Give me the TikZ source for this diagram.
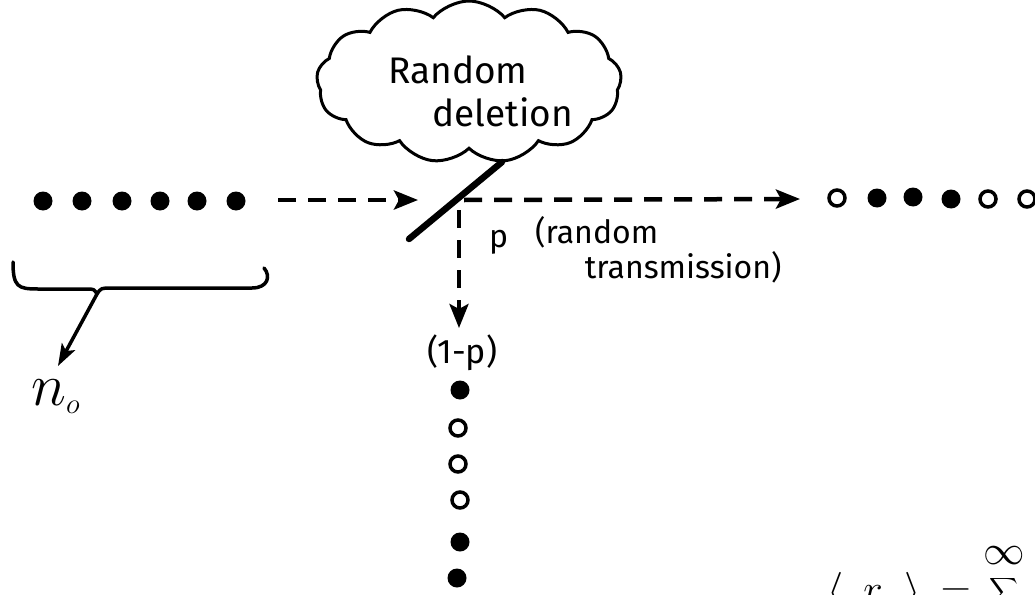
\documentclass[tikz,border=0pt]{standalone}
\usepackage{graphicx}
\usepackage{fontspec}
\setmainfont{Fira Sans}
\usetikzlibrary{shapes.symbols,arrows.meta}
\begin{document}
\begin{tikzpicture}[x=1pt,y=-1pt,
  full/.style={circle,fill=black,inner sep=0pt,minimum size=19pt},
  hollow/.style={circle,draw=black,line width=3.5pt,inner sep=0pt,minimum size=16pt},
  dashline/.style={line width=4.5pt,dash pattern=on 18pt off 12pt},
  tip/.style={-{Stealth[length=24pt,width=19pt,inset=5pt]}},
  hand/.style={font=\fontsize{32}{35}\selectfont,inner sep=0pt},
  bigtext/.style={font=\fontsize{37}{43}\selectfont,inner sep=0pt}]
\useasboundingbox (0,0) rectangle (1035,594);
\clip (0,0) rectangle (1035,594);
% cloud
\node[cloud, draw, line width=3pt, cloud puffs=13, cloud puff arc=100,
      cloud ignores aspect, minimum width=305pt, minimum height=162pt,
      inner sep=0pt] (cloud) at (469,82) {};
\node[bigtext,anchor=base west,align=left] (ctext) at (388,126)
  {Random\\\hspace*{1.2em}deletion};
% left dots
\foreach \x [count=\i] in {43,82,122,160,197,236}
  \node[full] (l\i) at (\x,201) {};
% mirror
\coordinate (m1) at (409,239);
\coordinate (m2) at (502,162);
\draw[line width=6.5pt,line cap=round] (m1) -- (m2);
% incoming arrow
\coordinate (in0) at (278,200);
\coordinate (in1) at (418,200);
\draw[dashline,tip] (in0) -- (in1);
% transmitted arrow
\coordinate (t0) at (464,200);
\coordinate (t1) at (800,199);
\draw[dashline,tip] (t0) -- (t1);
% right dots
\node[hollow] (r1) at (837,198) {};
\node[full]   (r2) at (877,198) {};
\node[full]   (r3) at (913,197) {};
\node[full]   (r4) at (951,199) {};
\node[hollow] (r5) at (988,199) {};
\node[hollow] (r6) at (1027,199) {};
% reflected arrow
\coordinate (d0) at (459,210);
\coordinate (d1) at (459,328);
\draw[dashline,line width=4pt,tip] (d0) -- (d1);
% labels
\node[hand,anchor=base west] (p) at (489,247) {p};
\node[hand,anchor=base west,align=left] (tr) at (535,278)
  {(random\\\hspace*{1.55em}transmission)};
\node[font=\fontsize{34}{34}\selectfont,inner sep=0pt] (q) at (462,353) {(1-p)};
% vertical dots
\node[full]   (v1) at (460,390) {};
\node[hollow] (v2) at (458,428) {};
\node[hollow] (v3) at (458,464) {};
\node[hollow] (v4) at (460,500) {};
\node[full]   (v5) at (460,542) {};
\node[full]   (v6) at (457,578) {};
% brace
\draw[line width=3.5pt,line cap=round,line join=round]
  (13,262) .. controls (13,287) and (18,289) .. (38,289) -- (86,289)
  .. controls (94,289) .. (97,294) .. controls (101,288) .. (112,288)
  -- (252,288) .. controls (268,288) and (271,276) .. (264,268);
\coordinate (bc) at (97,294);
\coordinate (nt) at (58,366);
\draw[line width=3.5pt,-{Stealth[length=22pt,width=15pt,inset=5pt]}] (bc) -- (nt);
\node[font=\fontsize{24}{24}\selectfont,inner sep=0pt,anchor=base west] (n0) at (31,405)
  {\scalebox{2.4}{$n_{\scriptscriptstyle o}$}};
% formula (cut off at bottom)
\node[anchor=base west,font=\fontsize{20}{20}\selectfont,inner sep=0pt] (f) at (827,603)
  {\scalebox{2}{$\langle\hspace{10pt}r\hspace{11pt}\rangle\hspace{10pt}{=}\hspace{3pt}\displaystyle\sum^{\textstyle\infty\mathstrut}$}};
\end{tikzpicture}
\end{document}
